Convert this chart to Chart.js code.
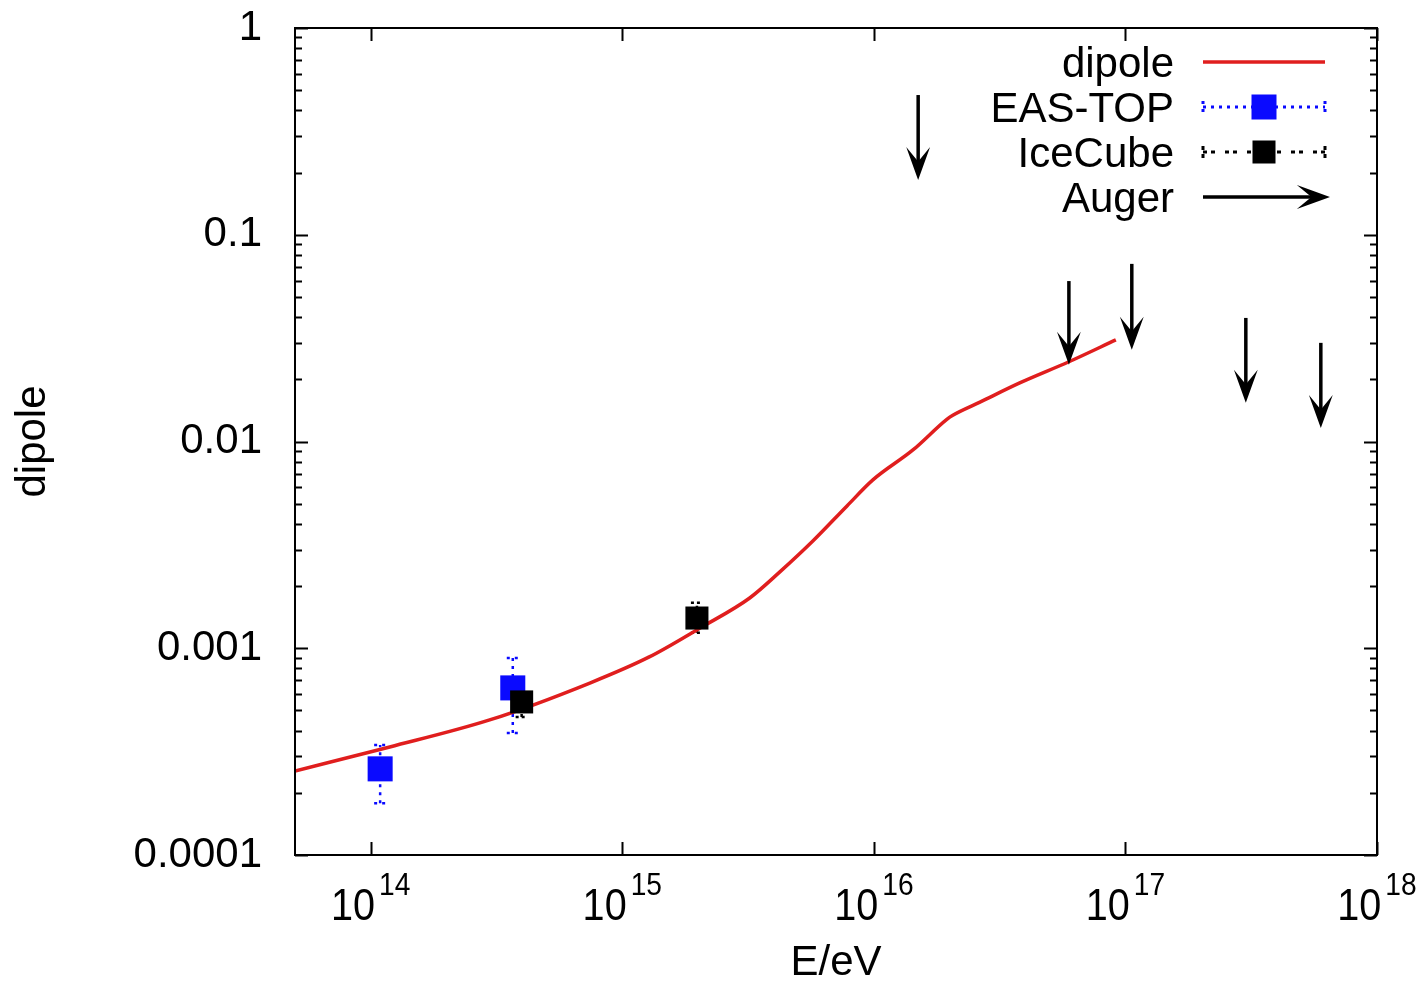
<!DOCTYPE html>
<html>
<head>
<meta charset="utf-8">
<title>dipole vs E/eV</title>
<script src="https://cdn.jsdelivr.net/npm/chart.js@4.4.1/dist/chart.umd.min.js"></script>
<style>
  body { margin: 0; background: #fff; }
  canvas { display: block; }
</style>
</head>
<body>
<canvas id="dipoleChart" width="1425" height="985"></canvas>
<script>
// model curve
const dipoleE = [5e13, 1.19e14, 2.97e14, 7.43e14, 1.28e15, 2.03e15, 3.21e15, 4.23e15, 5.72e15,
                 7.82e15, 9.91e15, 1.43e16, 1.95e16, 2.06e16, 2.64e16, 3.8e16, 5.96e16, 9.16e16];
const dipoleD = [2.55e-4, 3.33e-4, 4.5e-4, 6.79e-4, 9.08e-4, 1.25e-3, 1.75e-3, 2.34e-3, 3.3e-3,
                 4.88e-3, 6.52e-3, 9.1e-3, 1.28e-2, 1.34e-2, 1.55e-2, 1.92e-2, 2.43e-2, 3.1e-2];

// EAS-TOP measurements with errors
const easE  = [1.09e14, 3.67e14];
const easD  = [2.61e-4, 6.43e-4];
const easLo = [1.78e-4, 3.89e-4];
const easHi = [3.4e-4, 8.98e-4];

// IceCube measurements with errors
const iceE  = [3.98e14, 1.98e15];
const iceD  = [5.5e-4, 1.4e-3];
const iceLo = [4.65e-4, 1.19e-3];
const iceHi = [6.5e-4, 1.66e-3];

// Auger upper limits: arrow start and arrow tip
const augerE   = [1.5e16, 5.96e16, 1.06e17, 3.01e17, 5.98e17];
const augerTop = [0.474, 0.0597, 0.0723, 0.0396, 0.030];
const augerTip = [0.19, 0.0243, 0.0287, 0.0159, 0.012];

const seriesNames = ['dipole', 'EAS-TOP', 'IceCube', 'Auger'];
const xTickExps = ['14', '15', '16', '17', '18'];
const yTicks = [1e-4, 1e-3, 1e-2, 1e-1, 1];
const yTickLabels = ['0.0001', '0.001', '0.01', '0.1', '1'];

const FONT = '"Liberation Sans", Arial, Helvetica, sans-serif';
const RED = '#e01e1e';
const BLUE = '#0a0aff';

const toPoints = (xs, ys) => xs.map((x, i) => ({ x, y: ys[i] }));

function drawArrow(ctx, x0, y0, x1, y1) {
  const ang = Math.atan2(y1 - y0, x1 - x0);
  const c = Math.cos(ang), s = Math.sin(ang);
  const len = 25, half = 9, notch = 14;
  ctx.beginPath();
  ctx.moveTo(x0, y0);
  ctx.lineTo(x1 - c * notch, y1 - s * notch);
  ctx.stroke();
  const bx = x1 - c * len, by = y1 - s * len;
  ctx.beginPath();
  ctx.moveTo(x1, y1);
  ctx.lineTo(bx - s * half, by + c * half);
  ctx.lineTo(x1 - c * notch, y1 - s * notch);
  ctx.lineTo(bx + s * half, by - c * half);
  ctx.closePath();
  ctx.fill();
  ctx.lineWidth = 2;
  ctx.stroke();
}

function drawErrorBars(chart, xs, lo, hi, color, dash) {
  const { ctx, scales: { x, y } } = chart;
  ctx.save();
  ctx.strokeStyle = color;
  ctx.lineWidth = 2.5;
  ctx.setLineDash(dash);
  xs.forEach((e, i) => {
    const px = x.getPixelForValue(e);
    const yl = y.getPixelForValue(lo[i]);
    const yh = y.getPixelForValue(hi[i]);
    ctx.beginPath();
    ctx.moveTo(px, yl); ctx.lineTo(px, yh);
    ctx.moveTo(px - 6, yl); ctx.lineTo(px + 6, yl);
    ctx.moveTo(px - 6, yh); ctx.lineTo(px + 6, yh);
    ctx.stroke();
  });
  ctx.restore();
}

// condensed text, the way the exported labels look
function fillNarrow(ctx, text, x, y, sx) {
  ctx.save();
  ctx.translate(x, y);
  ctx.scale(sx, 1);
  ctx.fillText(text, 0, 0);
  ctx.restore();
}

const gnuplotDecor = {
  id: 'gnuplotDecor',
  beforeDatasetsDraw(chart) {
    drawErrorBars(chart, easE, easLo, easHi, BLUE, [3, 5]);
    drawErrorBars(chart, iceE, iceLo, iceHi, '#000', [3, 3]);
  },
  afterDatasetsDraw(chart) {
    const { ctx, scales: { x, y } } = chart;
    augerE.forEach((e, i) => {
      const px = x.getPixelForValue(e);
      ctx.save();
      ctx.strokeStyle = '#000';
      ctx.fillStyle = '#000';
      ctx.lineWidth = 3.5;
      drawArrow(ctx, px, y.getPixelForValue(augerTop[i]), px, y.getPixelForValue(augerTip[i]));
      ctx.restore();
    });
  },
  afterDraw(chart) {
    const { ctx, chartArea: a, scales: { x, y } } = chart;
    ctx.save();
    ctx.strokeStyle = '#000';
    ctx.lineWidth = 2;

    // tick marks on all four sides, pointing inward
    ctx.beginPath();
    for (let k = -4; k <= 0; k++) {
      for (let m = 1; m <= 9; m++) {
        const v = m * Math.pow(10, k);
        if (v > 1.0001) break;
        const py = Math.round(y.getPixelForValue(v)) + 0.5;
        const len = m === 1 ? 13 : 7;
        ctx.moveTo(a.left, py); ctx.lineTo(a.left + len, py);
        ctx.moveTo(a.right, py); ctx.lineTo(a.right - len, py);
      }
    }
    xTickExps.forEach(p => {
      const px = Math.round(x.getPixelForValue(Math.pow(10, +p))) + 0.5;
      ctx.moveTo(px, a.bottom); ctx.lineTo(px, a.bottom - 13);
      ctx.moveTo(px, a.top); ctx.lineTo(px, a.top + 13);
    });
    ctx.stroke();
    ctx.strokeRect(a.left, a.top, a.right - a.left, a.bottom - a.top);

    // y tick labels
    ctx.fillStyle = '#000';
    ctx.font = `42px ${FONT}`;
    ctx.textAlign = 'right';
    ctx.textBaseline = 'middle';
    yTicks.forEach((v, i) => {
      ctx.fillText(yTickLabels[i], a.left - 33, y.getPixelForValue(v));
    });

    // x tick labels as 10^n
    const sx = 0.88;
    ctx.textBaseline = 'alphabetic';
    ctx.textAlign = 'left';
    xTickExps.forEach(p => {
      const px = x.getPixelForValue(Math.pow(10, +p));
      ctx.font = `45px ${FONT}`;
      const w1 = ctx.measureText('10').width * sx;
      ctx.font = `32px ${FONT}`;
      const w2 = ctx.measureText(p).width * sx;
      const x0 = px - (w1 + w2 + 4) / 2;
      ctx.font = `45px ${FONT}`;
      fillNarrow(ctx, '10', x0, a.bottom + 65, sx);
      ctx.font = `32px ${FONT}`;
      fillNarrow(ctx, p, x0 + w1 + 4, a.bottom + 40, sx);
    });

    // key in the top right corner
    ctx.font = `42px ${FONT}`;
    ctx.textAlign = 'right';
    const textRight = a.right - 203;
    const s0 = a.right - 174, s1 = a.right - 52, sMid = a.right - 113;
    seriesNames.forEach((name, i) => {
      const base = a.top + 49 + i * 45;
      const cy = base - 15;
      ctx.fillStyle = '#000';
      ctx.fillText(name, textRight, base);
      ctx.save();
      if (i === 0) {
        ctx.strokeStyle = RED; ctx.lineWidth = 3.5;
        ctx.beginPath(); ctx.moveTo(s0, cy); ctx.lineTo(s1, cy); ctx.stroke();
      } else if (i === 1 || i === 2) {
        const col = i === 1 ? BLUE : '#000';
        const side = i === 1 ? 25 : 23;
        ctx.strokeStyle = col; ctx.fillStyle = col; ctx.lineWidth = 3;
        ctx.setLineDash(i === 1 ? [3, 5] : [4, 4, 4, 10]);
        ctx.beginPath();
        ctx.moveTo(s0, cy); ctx.lineTo(s1, cy);
        ctx.moveTo(s0, cy - 6); ctx.lineTo(s0, cy + 6);
        ctx.moveTo(s1, cy - 6); ctx.lineTo(s1, cy + 6);
        ctx.stroke();
        ctx.fillRect(sMid - side / 2, cy - side / 2, side, side);
      } else {
        ctx.strokeStyle = '#000'; ctx.fillStyle = '#000'; ctx.lineWidth = 3.5;
        drawArrow(ctx, s0, cy, s1 + 2, cy);
      }
      ctx.restore();
    });
    ctx.restore();
  }
};

new Chart(document.getElementById('dipoleChart'), {
  type: 'scatter',
  data: {
    datasets: [
      {
        label: seriesNames[0],
        data: toPoints(dipoleE, dipoleD),
        showLine: true,
        borderColor: RED,
        borderWidth: 3.5,
        pointRadius: 0,
        cubicInterpolationMode: 'monotone',
        order: 3
      },
      {
        label: seriesNames[1],
        data: toPoints(easE, easD),
        pointStyle: 'rect',
        pointRadius: 17.7,
        backgroundColor: BLUE,
        borderWidth: 0,
        order: 2
      },
      {
        label: seriesNames[2],
        data: toPoints(iceE, iceD),
        pointStyle: 'rect',
        pointRadius: 16.3,
        backgroundColor: '#000',
        borderWidth: 0,
        order: 1
      }
    ]
  },
  options: {
    responsive: false,
    animation: false,
    layout: { padding: { top: 28, right: 48, left: 0, bottom: 0 } },
    plugins: {
      legend: { display: false },
      tooltip: { enabled: false }
    },
    scales: {
      x: {
        type: 'logarithmic',
        min: 5e13,
        max: 1e18,
        grid: { display: false, drawTicks: false },
        border: { display: false },
        ticks: { display: false },
        title: {
          display: true,
          text: 'E/eV',
          color: '#000',
          font: { family: FONT, size: 42 },
          padding: { top: 0, bottom: -4 }
        },
        afterFit: s => { s.height = 130; }
      },
      y: {
        type: 'logarithmic',
        min: 1e-4,
        max: 1,
        grid: { display: false, drawTicks: false },
        border: { display: false },
        ticks: { display: false },
        title: {
          display: true,
          text: 'dipole',
          color: '#000',
          font: { family: FONT, size: 42 },
          padding: { top: 8, bottom: 0 }
        },
        afterFit: s => { s.width = 295; }
      }
    }
  },
  plugins: [gnuplotDecor]
});
</script>
</body>
</html>
